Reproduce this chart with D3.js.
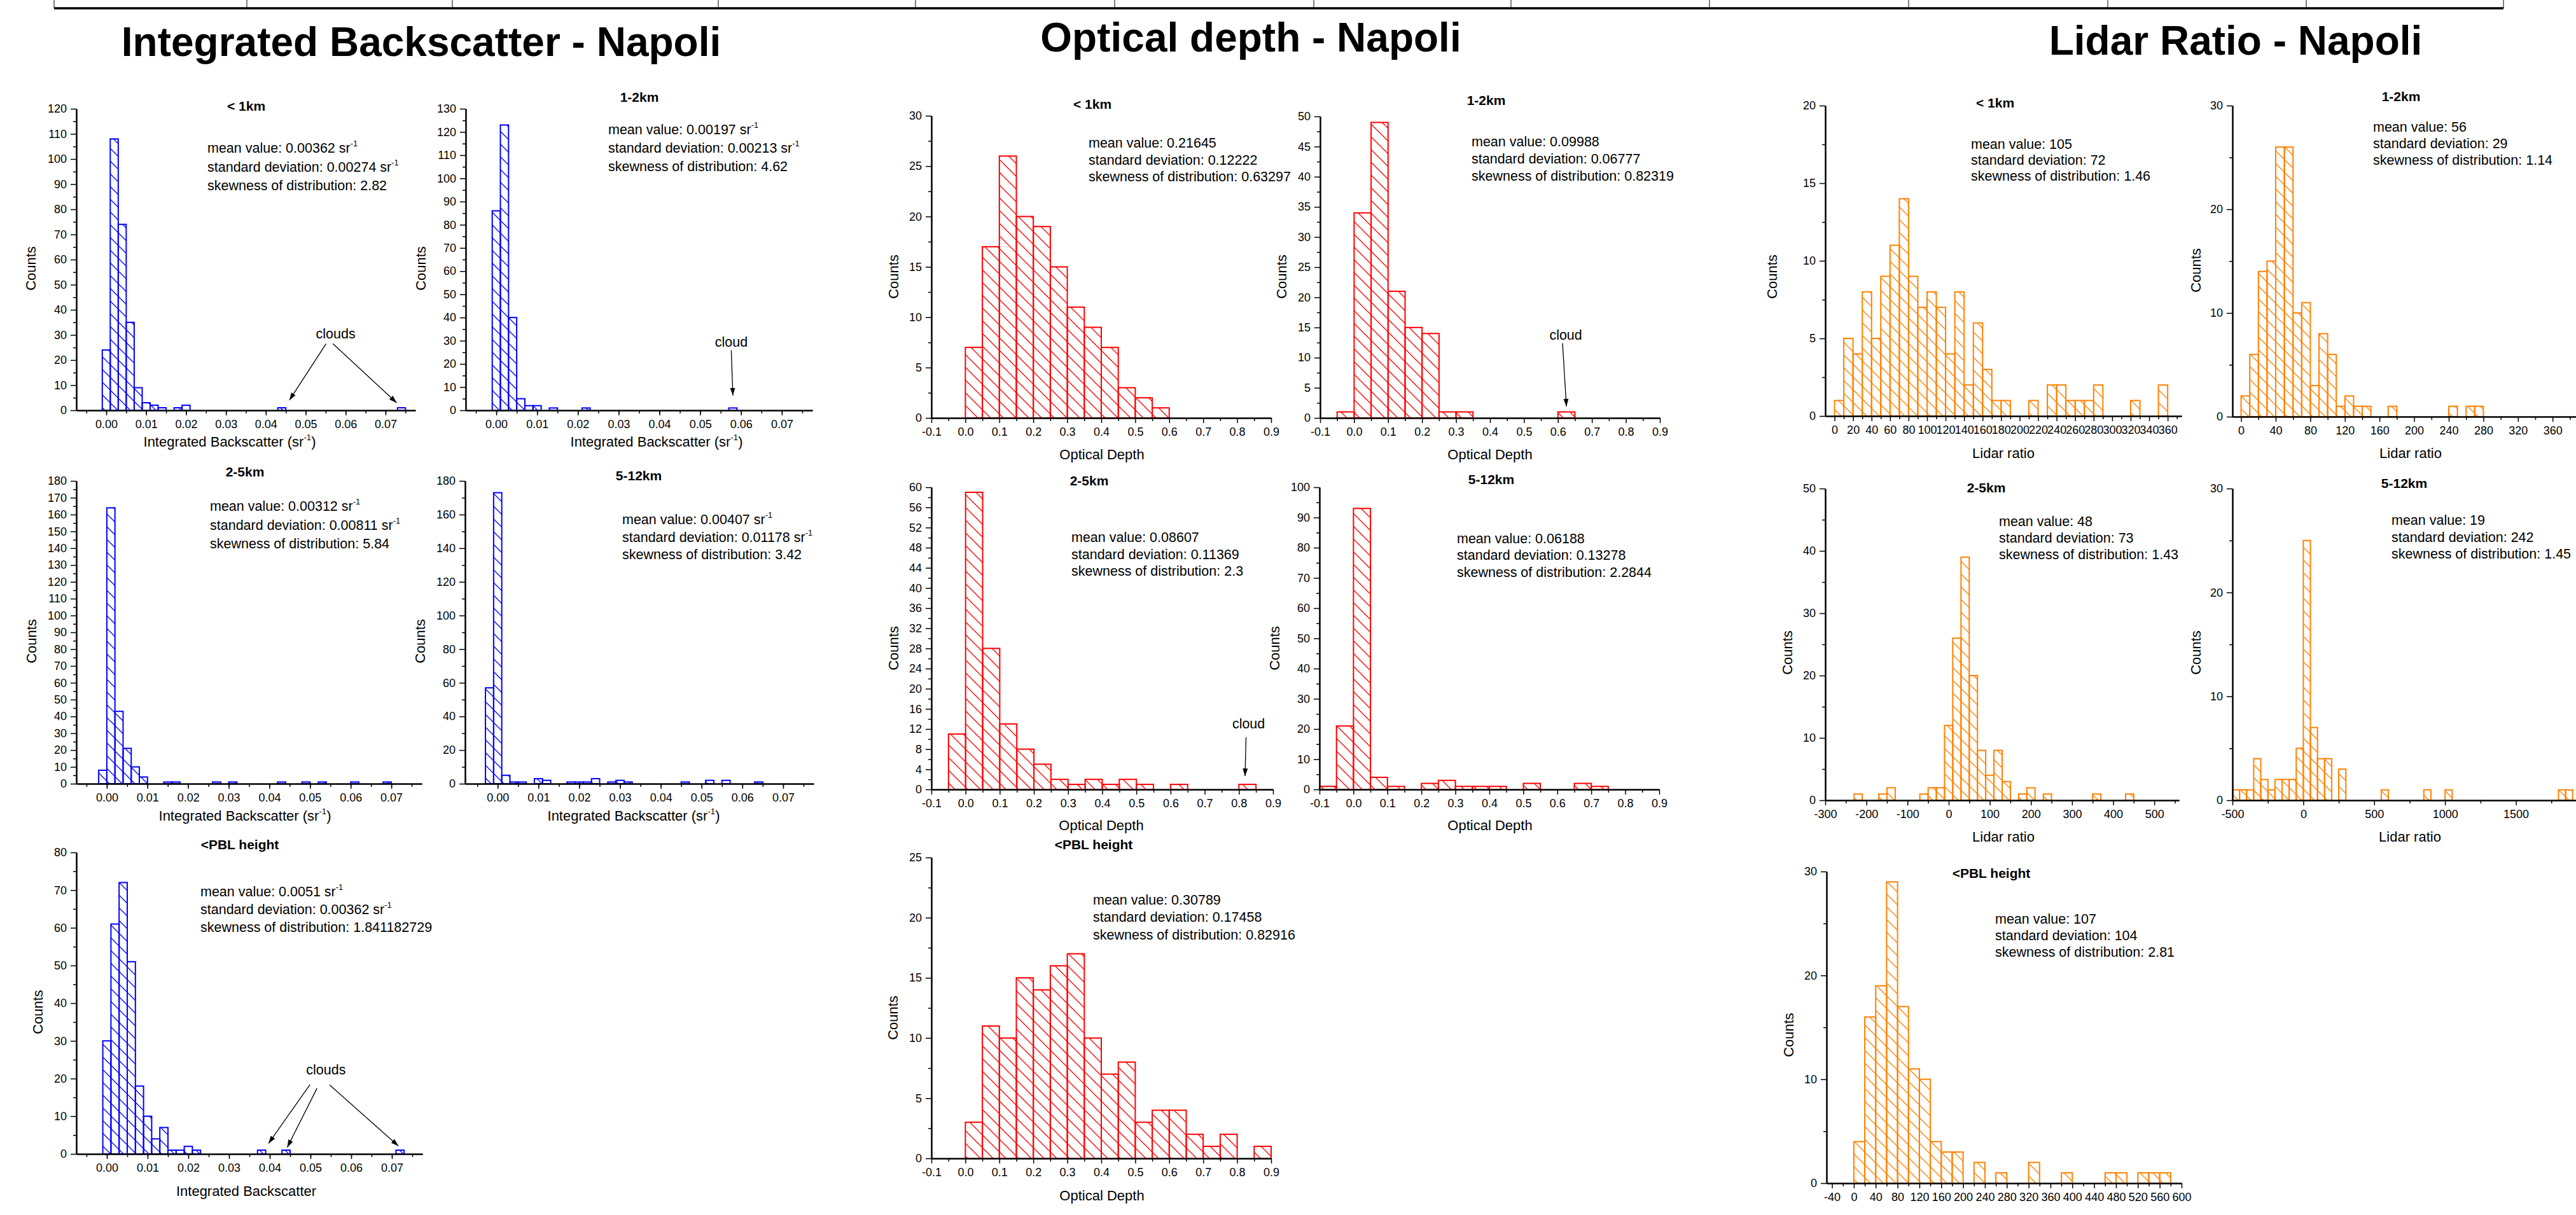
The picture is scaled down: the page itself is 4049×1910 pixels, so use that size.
<!DOCTYPE html>
<html>
<head>
<meta charset="utf-8">
<title>Napoli histograms</title>
<script src="https://d3js.org/d3.v7.min.js"></script>
<style>
body { margin: 0; background: #fff; }
svg { display: block; font-family: "Liberation Sans", Arial, sans-serif; }
</style>
</head>
<body>
<svg id="chart" width="4049" height="1910"></svg>
<script>
// ---- Integrated backscatter (sr^-1), bin width 0.002: left bin edges + counts
var ibLt1Bins   = [-0.001, 0.001, 0.003, 0.005, 0.007, 0.009, 0.011, 0.013, 0.017, 0.019, 0.043, 0.073];
var ibLt1Counts = [24, 108, 74, 35, 9, 3, 2, 1, 1, 2, 1, 1];
var ib12Bins    = [-0.001, 0.001, 0.003, 0.005, 0.007, 0.009, 0.013, 0.021, 0.057];
var ib12Counts  = [86, 123, 40, 5, 2, 2, 1, 1, 1];
var ib25Bins    = [-0.002, 0, 0.002, 0.004, 0.006, 0.008, 0.014, 0.016, 0.026, 0.030, 0.042, 0.048, 0.052, 0.060, 0.068];
var ib25Counts  = [8, 164, 43, 21, 10, 4, 1, 1, 1, 1, 1, 1, 1, 1, 1];
var ib512Bins   = [-0.003, -0.001, 0.001, 0.003, 0.005, 0.009, 0.011, 0.017, 0.019, 0.021, 0.023, 0.027, 0.029, 0.031, 0.045, 0.051, 0.055, 0.063];
var ib512Counts = [57, 173, 5, 1, 1, 3, 2, 1, 1, 1, 3, 1, 2, 1, 1, 2, 2, 1];
var ibPblBins   = [-0.001, 0.001, 0.003, 0.005, 0.007, 0.009, 0.011, 0.013, 0.015, 0.017, 0.019, 0.021, 0.037, 0.043, 0.071];
var ibPblCounts = [30, 61, 72, 51, 18, 10, 4, 7, 1, 1, 2, 1, 1, 1, 1];

// ---- Optical depth, bin width 0.05
var odLt1Bins   = [0, 0.05, 0.1, 0.15, 0.2, 0.25, 0.3, 0.35, 0.4, 0.45, 0.5, 0.55];
var odLt1Counts = [7, 17, 26, 20, 19, 15, 11, 9, 7, 3, 2, 1];
var od12Bins    = [-0.05, 0, 0.05, 0.1, 0.15, 0.2, 0.25, 0.3, 0.6];
var od12Counts  = [1, 34, 49, 21, 15, 14, 1, 1, 1];
var od25Bins    = [-0.05, 0, 0.05, 0.1, 0.15, 0.2, 0.25, 0.3, 0.35, 0.4, 0.45, 0.5, 0.6, 0.8];
var od25Counts  = [11, 59, 28, 13, 8, 5, 2, 1, 2, 1, 2, 1, 1, 1];
var od512Bins   = [-0.1, -0.05, 0, 0.05, 0.1, 0.2, 0.25, 0.3, 0.35, 0.4, 0.5, 0.65, 0.7];
var od512Counts = [1, 21, 93, 4, 1, 2, 3, 1, 1, 1, 2, 2, 1];
var odPblBins   = [0, 0.05, 0.1, 0.15, 0.2, 0.25, 0.3, 0.35, 0.4, 0.45, 0.5, 0.55, 0.6, 0.65, 0.7, 0.75, 0.85];
var odPblCounts = [3, 11, 10, 15, 14, 16, 17, 10, 7, 8, 3, 4, 4, 2, 1, 2, 1];

// ---- Lidar ratio
var lrLt1Bins   = [0, 10, 20, 30, 40, 50, 60, 70, 80, 90, 100, 110, 120, 130, 140, 150, 160, 170, 180, 210, 230, 240, 250, 260, 270, 280, 320, 350];
var lrLt1Counts = [1, 5, 4, 8, 5, 9, 11, 14, 9, 7, 8, 7, 4, 8, 2, 6, 3, 1, 1, 1, 2, 2, 1, 1, 1, 2, 1, 2];
var lr12Bins    = [0, 10, 20, 30, 40, 50, 60, 70, 80, 90, 100, 110, 120, 130, 140, 170, 240, 260, 270];
var lr12Counts  = [2, 6, 14, 15, 26, 26, 10, 11, 3, 8, 6, 1, 2, 1, 1, 1, 1, 1, 1];
var lr25Bins    = [-230, -170, -150, -70, -50, -30, -10, 10, 30, 50, 70, 90, 110, 130, 170, 190, 230, 350, 430];
var lr25Counts  = [1, 1, 2, 1, 2, 2, 12, 26, 39, 20, 8, 4, 8, 3, 1, 2, 1, 1, 1];
var lr512Bins   = [-500, -450, -400, -350, -300, -250, -200, -150, -100, -50, 0, 50, 100, 150, 250, 550, 850, 1000, 1800, 1850];
var lr512Counts = [1, 1, 1, 4, 2, 1, 2, 2, 2, 5, 25, 7, 4, 4, 3, 1, 1, 1, 1, 1];
var lrPblBins   = [0, 20, 40, 60, 80, 100, 120, 140, 160, 180, 220, 260, 320, 380, 460, 480, 520, 540, 560];
var lrPblCounts = [4, 16, 19, 29, 17, 11, 10, 4, 3, 3, 2, 1, 2, 1, 1, 1, 1, 1, 1];

// ---- statistics text ("^" toggles superscript)
var ibLt1Stats = ["mean value: 0.00362 sr^-1", "standard deviation: 0.00274 sr^-1", "skewness of distribution: 2.82"];
var ib12Stats  = ["mean value: 0.00197 sr^-1", "standard deviation: 0.00213 sr^-1", "skewness of distribution: 4.62"];
var ib25Stats  = ["mean value: 0.00312 sr^-1", "standard deviation: 0.00811 sr^-1", "skewness of distribution: 5.84"];
var ib512Stats = ["mean value: 0.00407 sr^-1", "standard deviation: 0.01178 sr^-1", "skewness of distribution: 3.42"];
var ibPblStats = ["mean value: 0.0051 sr^-1", "standard deviation: 0.00362 sr^-1", "skewness of distribution: 1.841182729"];
var odLt1Stats = ["mean value: 0.21645", "standard deviation: 0.12222", "skewness of distribution: 0.63297"];
var od12Stats  = ["mean value: 0.09988", "standard deviation: 0.06777", "skewness of distribution: 0.82319"];
var od25Stats  = ["mean value: 0.08607", "standard deviation: 0.11369", "skewness of distribution: 2.3"];
var od512Stats = ["mean value: 0.06188", "standard deviation: 0.13278", "skewness of distribution: 2.2844"];
var odPblStats = ["mean value: 0.30789", "standard deviation: 0.17458", "skewness of distribution: 0.82916"];
var lrLt1Stats = ["mean value: 105", "standard deviation: 72", "skewness of distribution: 1.46"];
var lr12Stats  = ["mean value: 56", "standard deviation: 29", "skewness of distribution: 1.14"];
var lr25Stats  = ["mean value: 48", "standard deviation: 73", "skewness of distribution: 1.43"];
var lr512Stats = ["mean value: 19", "standard deviation: 242", "skewness of distribution: 1.45"];
var lrPblStats = ["mean value: 107", "standard deviation: 104", "skewness of distribution: 2.81"];

var mainTitles = ["Integrated Backscatter - Napoli", "Optical depth - Napoli", "Lidar Ratio - Napoli"];
var colors = {ib: "#0000ff", od: "#ff0000", lr: "#ff8000"};

// ---- layout of each panel (pixels), axes and labels
var panels = [
  {kind:"ib", bins:ibLt1Bins, counts:ibLt1Counts, bw:0.002, stats:ibLt1Stats, title:"< 1km", xTitle:"Integrated Backscatter (sr^-1^)",
   box:[120, 653, 171, 645], xDom:[-0.0075, 0.0775], yMax:120, xMaj:[0, 0.07, 0.01], xMin:[-0.005, 0.075, 0.005], dig:2, yMaj:10, yMin:5,
   tPos:[387, 174], sPos:[326, 240, 29.5], cPos:[48, 422], xtPos:[361, 702],
   notes:{text:"clouds", at:[0.0575, 28.7], arrows:[[[0.0551, 26.5], [0.0459, 4]], [[0.0568, 26.5], [0.0728, 3]]]}},
  {kind:"ib", bins:ib12Bins, counts:ib12Counts, bw:0.002, stats:ib12Stats, title:"1-2km", xTitle:"Integrated Backscatter (sr^-1^)",
   box:[732, 1277, 171, 645], xDom:[-0.0075, 0.0775], yMax:130, xMaj:[0, 0.07, 0.01], xMin:[-0.005, 0.075, 0.005], dig:2, yMaj:10, yMin:5,
   tPos:[1005, 160], sPos:[956, 211, 29], cPos:[661, 422], xtPos:[1032, 702],
   notes:{text:"cloud", at:[0.0576, 27.5], arrows:[[[0.0576, 25.9], [0.058, 6.4]]]}},
  {kind:"ib", bins:ib25Bins, counts:ib25Counts, bw:0.002, stats:ib25Stats, title:"2-5km", xTitle:"Integrated Backscatter (sr^-1^)",
   box:[120, 663, 756, 1232], xDom:[-0.0075, 0.0775], yMax:180, xMaj:[0, 0.07, 0.01], xMin:[-0.005, 0.075, 0.005], dig:2, yMaj:10, yMin:5,
   tPos:[385, 749], sPos:[330, 803, 29.5], cPos:[49, 1008], xtPos:[385, 1290]},
  {kind:"ib", bins:ib512Bins, counts:ib512Counts, bw:0.002, stats:ib512Stats, title:"5-12km", xTitle:"Integrated Backscatter (sr^-1^)",
   box:[731, 1279, 756, 1232], xDom:[-0.008, 0.0775], yMax:180, xMaj:[0, 0.07, 0.01], xMin:[-0.005, 0.075, 0.005], dig:2, yMaj:20, yMin:10,
   tPos:[1004, 755], sPos:[978, 824, 27.5], cPos:[660, 1008], xtPos:[996, 1290]},
  {kind:"ib", bins:ibPblBins, counts:ibPblCounts, bw:0.002, stats:ibPblStats, title:"<PBL height", xTitle:"Integrated Backscatter",
   box:[120, 664, 1340, 1814], xDom:[-0.0075, 0.0775], yMax:80, xMaj:[0, 0.07, 0.01], xMin:[-0.005, 0.075, 0.005], dig:2, yMaj:10, yMin:5,
   tPos:[377, 1335], sPos:[315, 1409, 28], cPos:[59, 1591], xtPos:[387, 1880],
   notes:{text:"clouds", at:[0.0538, 21.1], arrows:[[[0.0499, 18.4], [0.0397, 2.8]], [[0.0516, 17.4], [0.0443, 1.75]], [[0.0547, 18.3], [0.0716, 2.1]]]}},

  {kind:"od", bins:odLt1Bins, counts:odLt1Counts, bw:0.05, stats:odLt1Stats, title:"< 1km", xTitle:"Optical Depth",
   box:[1464, 1998, 182, 657], xDom:[-0.1, 0.9], yMax:30, xMaj:[-0.1, 0.9, 0.1], xMin:[-0.05, 0.85, 0.1], dig:1, yMaj:5, yMin:2.5,
   tPos:[1717, 171], sPos:[1711, 232, 26.5], cPos:[1404, 435], xtPos:[1732, 722]},
  {kind:"od", bins:od12Bins, counts:od12Counts, bw:0.05, stats:od12Stats, title:"1-2km", xTitle:"Optical Depth",
   box:[2075, 2609, 183, 657], xDom:[-0.1, 0.9], yMax:50, xMaj:[-0.1, 0.9, 0.1], xMin:[-0.05, 0.85, 0.1], dig:1, yMaj:5, yMin:2.5,
   tPos:[2336, 165], sPos:[2313, 230, 26.75], cPos:[2014, 435], xtPos:[2342, 722],
   notes:{text:"cloud", at:[0.623, 13], arrows:[[[0.6135, 12.4], [0.625, 1.9]]]}},
  {kind:"od", bins:od25Bins, counts:od25Counts, bw:0.05, stats:od25Stats, title:"2-5km", xTitle:"Optical Depth",
   box:[1464, 2001, 766, 1241], xDom:[-0.1, 0.9], yMax:60, xMaj:[-0.1, 0.9, 0.1], xMin:[-0.05, 0.85, 0.1], dig:1, yMaj:4, yMin:2,
   tPos:[1712, 763], sPos:[1684, 852, 26.5], cPos:[1404, 1019], xtPos:[1731, 1305],
   notes:{text:"cloud", at:[0.8285, 12.1], arrows:[[[0.821, 10.4], [0.818, 2.65]]]}},
  {kind:"od", bins:od512Bins, counts:od512Counts, bw:0.05, stats:od512Stats, title:"5-12km", xTitle:"Optical Depth",
   box:[2074, 2608, 766, 1241], xDom:[-0.1, 0.9], yMax:100, xMaj:[-0.1, 0.9, 0.1], xMin:[-0.05, 0.85, 0.1], dig:1, yMaj:10, yMin:5,
   tPos:[2344, 761], sPos:[2290, 854, 26.25], cPos:[2003, 1019], xtPos:[2342, 1305]},
  {kind:"od", bins:odPblBins, counts:odPblCounts, bw:0.05, stats:odPblStats, title:"<PBL height", xTitle:"Optical Depth",
   box:[1464, 1998, 1348, 1821], xDom:[-0.1, 0.9], yMax:25, xMaj:[-0.1, 0.9, 0.1], xMin:[-0.05, 0.85, 0.1], dig:1, yMaj:5, yMin:2.5,
   tPos:[1719, 1335], sPos:[1718, 1422, 27.25], cPos:[1403, 1600], xtPos:[1732, 1887]},

  {kind:"lr", bins:lrLt1Bins, counts:lrLt1Counts, bw:10, stats:lrLt1Stats, title:"< 1km", xTitle:"Lidar ratio",
   box:[2869, 3429, 166, 654], xDom:[-10, 375], yMax:20, xMaj:[0, 360, 20], xMin:[10, 370, 20], dig:0, yMaj:5, yMin:2.5,
   tPos:[3136, 169], sPos:[3098, 234, 25], cPos:[2785, 435], xtPos:[3149, 720]},
  {kind:"lr", bins:lr12Bins, counts:lr12Counts, bw:10, stats:lr12Stats, title:"1-2km", xTitle:"Lidar ratio",
   box:[3509, 4053, 166, 655], xDom:[-10, 390], yMax:30, xMaj:[0, 360, 40], xMin:[20, 380, 40], dig:0, yMaj:10, yMin:5,
   tPos:[3774, 159], sPos:[3730, 207, 26], cPos:[3451, 425], xtPos:[3789, 720]},
  {kind:"lr", bins:lr25Bins, counts:lr25Counts, bw:20, stats:lr25Stats, title:"2-5km", xTitle:"Lidar ratio",
   box:[2869, 3425, 768, 1258], xDom:[-300, 560], yMax:50, xMaj:[-300, 500, 100], xMin:[-250, 550, 100], dig:0, yMaj:10, yMin:5,
   tPos:[3122, 774], sPos:[3142, 827, 26], cPos:[2809, 1026], xtPos:[3149, 1323]},
  {kind:"lr", bins:lr512Bins, counts:lr512Counts, bw:50, stats:lr512Stats, title:"5-12km", xTitle:"Lidar ratio",
   box:[3509, 4066, 768, 1258], xDom:[-500, 2000], yMax:30, xMaj:[-500, 1500, 500], xMin:[-250, 1750, 500], dig:0, yMaj:10, yMin:5,
   tPos:[3779, 767], sPos:[3759, 825, 26.5], cPos:[3451, 1026], xtPos:[3788, 1323]},
  {kind:"lr", bins:lrPblBins, counts:lrPblCounts, bw:20, stats:lrPblStats, title:"<PBL height", xTitle:null,
   box:[2871, 3429, 1370, 1860], xDom:[-50, 600], yMax:30, xMaj:[-40, 600, 40], xMin:[-20, 580, 40], dig:0, yMaj:10, yMin:5,
   tPos:[3130, 1380], sPos:[3136, 1452, 26], cPos:[2811, 1627], xtPos:null}
];

var mainTitlePos = [[662, 88], [1966, 81], [3514, 86]];
var tableCols = [85, 388, 711, 1129, 1439, 1752, 2065, 2375, 2687, 3000, 3313, 3625, 3935];

var svg = d3.select("#chart");
svg.append("rect").attr("width", 4049).attr("height", 1910).attr("fill", "#fff");
var defs = svg.append("defs");

Object.keys(colors).forEach(function(k) {
  defs.append("pattern")
    .attr("id", "hatch-" + k)
    .attr("patternUnits", "userSpaceOnUse")
    .attr("width", 20).attr("height", 20)
    .append("path")
    .attr("d", "M-5,-5 L25,25 M-5,15 L5,25 M15,-5 L25,5")
    .attr("stroke", colors[k]).attr("stroke-width", 1.3).attr("fill", "none");
});

defs.append("marker")
  .attr("id", "arrow").attr("viewBox", "0 0 12 10")
  .attr("refX", 12).attr("refY", 5)
  .attr("markerWidth", 12).attr("markerHeight", 10)
  .attr("markerUnits", "userSpaceOnUse").attr("orient", "auto")
  .append("path").attr("d", "M0,1 L12,5 L0,9 Z").attr("fill", "#000");

// top table strip (cut off in the source figure)
svg.append("g").selectAll("line").data(tableCols).enter().append("line")
  .attr("x1", d => d).attr("x2", d => d).attr("y1", 0).attr("y2", 13)
  .attr("stroke", "#000").attr("stroke-width", 1);
svg.append("line").attr("x1", tableCols[0]).attr("x2", tableCols[tableCols.length - 1])
  .attr("y1", 13).attr("y2", 13).attr("stroke", "#000").attr("stroke-width", 3.5);

mainTitles.forEach(function(t, i) {
  svg.append("text").attr("x", mainTitlePos[i][0]).attr("y", mainTitlePos[i][1])
    .attr("text-anchor", "middle").attr("font-size", 64).attr("font-weight", "bold").text(t);
});

function richText(sel, str) {
  str.split("^").forEach(function(s, i) {
    if (!s) return;
    var t = sel.append("tspan").text(s);
    if (i % 2 === 1) t.attr("font-size", "0.6em").attr("dy", "-0.75em");
    else if (i > 0) t.attr("dy", "0.45em");
  });
}

function steps(r) {
  var out = [];
  for (var i = 0; r[0] + i * r[2] <= r[1] + r[2] * 1e-6; i++) out.push(+(r[0] + i * r[2]).toFixed(6));
  return out;
}

function drawPanel(p) {
  var col = colors[p.kind];
  var g = svg.append("g");
  var x = d3.scaleLinear().domain(p.xDom).range([p.box[0], p.box[1]]);
  var y = d3.scaleLinear().domain([0, p.yMax]).range([p.box[3], p.box[2]]);

  var bars = p.bins.map(function(b, i) { return {x0: b, x1: b + p.bw, n: p.counts[i]}; });
  g.selectAll("rect.bar").data(bars).enter().append("rect")
    .attr("class", "bar")
    .attr("x", d => x(d.x0)).attr("width", d => x(d.x1) - x(d.x0))
    .attr("y", d => y(d.n)).attr("height", d => y(0) - y(d.n))
    .attr("fill", "url(#hatch-" + p.kind + ")")
    .attr("stroke", col).attr("stroke-width", 2);

  var fmt = function(d) { return d.toFixed(p.dig); };

  // x axis: minor then major
  g.append("g").attr("transform", "translate(0," + p.box[3] + ")")
    .call(d3.axisBottom(x).tickValues(steps(p.xMin)).tickSize(5).tickFormat("").tickSizeOuter(0));
  g.append("g").attr("transform", "translate(0," + p.box[3] + ")")
    .call(d3.axisBottom(x).tickValues(steps(p.xMaj)).tickSize(8).tickPadding(7).tickFormat(fmt).tickSizeOuter(0));
  // y axis
  var yMinorVals = steps([p.yMin, p.yMax, p.yMaj]).filter(v => v < p.yMax);
  g.append("g").attr("transform", "translate(" + p.box[0] + ",0)")
    .call(d3.axisLeft(y).tickValues(yMinorVals).tickSize(5).tickFormat("").tickSizeOuter(0));
  g.append("g").attr("transform", "translate(" + p.box[0] + ",0)")
    .call(d3.axisLeft(y).tickValues(steps([0, p.yMax, p.yMaj])).tickSize(9).tickPadding(6)
      .tickFormat(d => String(+d.toFixed(2))).tickSizeOuter(0));

  g.selectAll(".domain").attr("stroke", "#000").attr("stroke-width", 2);
  g.selectAll(".tick line").attr("stroke", "#000").attr("stroke-width", 1.5);
  g.selectAll(".tick text").attr("font-size", 18).attr("font-family", null).attr("fill", "#000");
  g.selectAll("g").attr("font-family", null).attr("font-size", null);

  g.append("text").attr("x", p.tPos[0]).attr("y", p.tPos[1]).attr("text-anchor", "middle")
    .attr("font-size", 21).attr("font-weight", "bold").text(p.title);

  p.stats.forEach(function(s, i) {
    var t = g.append("text").attr("x", p.sPos[0]).attr("y", p.sPos[1] + i * p.sPos[2]).attr("font-size", 21.5);
    richText(t, s);
  });

  g.append("text").attr("transform", "translate(" + p.cPos[0] + "," + p.cPos[1] + ") rotate(-90)")
    .attr("text-anchor", "middle").attr("dy", "0.35em").attr("font-size", 22).text("Counts");

  if (p.xTitle) {
    var xt = g.append("text").attr("x", p.xtPos[0]).attr("y", p.xtPos[1]).attr("text-anchor", "middle").attr("font-size", 22);
    richText(xt, p.xTitle);
  }

  if (p.notes) {
    g.append("text").attr("x", x(p.notes.at[0])).attr("y", y(p.notes.at[1]))
      .attr("text-anchor", "middle").attr("font-size", 21.5).text(p.notes.text);
    p.notes.arrows.forEach(function(a) {
      g.append("line")
        .attr("x1", x(a[0][0])).attr("y1", y(a[0][1]))
        .attr("x2", x(a[1][0])).attr("y2", y(a[1][1]))
        .attr("stroke", "#000").attr("stroke-width", 1.3)
        .attr("marker-end", "url(#arrow)");
    });
  }
}

panels.forEach(drawPanel);
</script>
</body>
</html>
